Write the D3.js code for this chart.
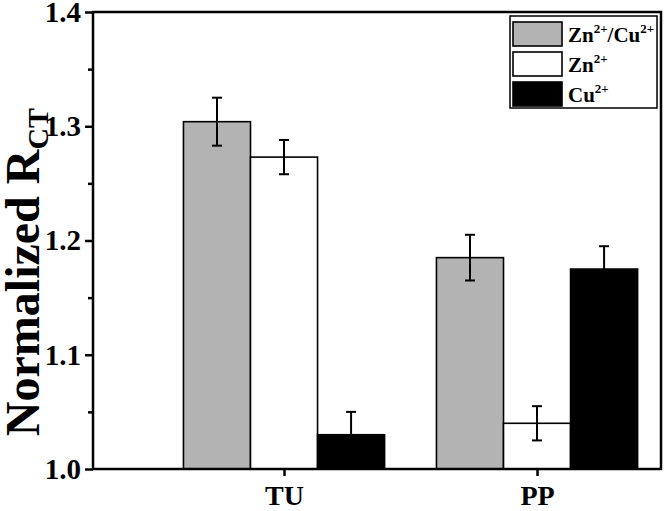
<!DOCTYPE html>
<html>
<head>
<meta charset="utf-8">
<script src="https://cdn.jsdelivr.net/npm/d3@7"></script>
<style>
  html, body { margin: 0; padding: 0; background: #fff; }
  svg { display: block; }
  text { font-family: "Liberation Serif", "Times New Roman", serif; font-weight: bold; fill: #000; }
</style>
</head>
<body>
<svg id="chart" width="666" height="511"></svg>
<script>
// ---- data ----
const categories = ["TU", "PP"];
const seriesNames = ["Zn2+/Cu2+", "Zn2+", "Cu2+"];
const mixedValues = [1.304, 1.185];
const mixedErrors = [0.021, 0.020];
const znValues = [1.273, 1.040];
const znErrors = [0.015, 0.015];
const cuValues = [1.030, 1.175];
const cuErrors = [0.020, 0.020];
const yTickValues = [1.0, 1.1, 1.2, 1.3, 1.4];
const yMinorTickValues = [1.05, 1.15, 1.25, 1.35];
const seriesColors = ["#b3b3b3", "#ffffff", "#000000"];

const series = [
  { name: seriesNames[0], values: mixedValues, errors: mixedErrors, color: seriesColors[0] },
  { name: seriesNames[1], values: znValues, errors: znErrors, color: seriesColors[1] },
  { name: seriesNames[2], values: cuValues, errors: cuErrors, color: seriesColors[2] }
];

(function () {
// ---- layout ----
const svg = d3.select("#chart");
const pLeft = 93, pRight = 661, pTop = 12, pBottom = 469;

const x = d3.scaleLinear().domain([0.245, 2.49]).range([pLeft, pRight]);
const y = d3.scaleLinear().domain([1.0, 1.4]).range([pBottom, pTop]);
const barW = x(1.265) - x(1);

// bars
const g = svg.append("g");
series.forEach((s, si) => {
  categories.forEach((c, ci) => {
    const cx = x(ci + 1) + (si - 1) * barW;
    const v = s.values[ci];
    g.append("rect")
      .attr("x", cx - barW / 2)
      .attr("y", y(v))
      .attr("width", barW)
      .attr("height", y(1.0) - y(v))
      .attr("fill", s.color)
      .attr("stroke", "#000")
      .attr("stroke-width", 1.6);
  });
});

// error bars
series.forEach((s, si) => {
  categories.forEach((c, ci) => {
    const cx = x(ci + 1) + (si - 1) * barW;
    const v = s.values[ci], e = s.errors[ci];
    const eg = g.append("g").attr("stroke", "#000").attr("stroke-width", 2);
    eg.append("line").attr("x1", cx).attr("x2", cx).attr("y1", y(v - e)).attr("y2", y(v + e));
    eg.append("line").attr("x1", cx - 5).attr("x2", cx + 5).attr("y1", y(v + e)).attr("y2", y(v + e));
    eg.append("line").attr("x1", cx - 5).attr("x2", cx + 5).attr("y1", y(v - e)).attr("y2", y(v - e));
  });
});

// frame
svg.append("rect")
  .attr("x", pLeft).attr("y", pTop)
  .attr("width", pRight - pLeft).attr("height", pBottom - pTop)
  .attr("fill", "none").attr("stroke", "#000").attr("stroke-width", 2.5);

// y axis
const yAxis = svg.append("g").attr("transform", `translate(${pLeft},0)`)
  .call(d3.axisLeft(y).tickValues(yTickValues).tickSize(8).tickPadding(4).tickFormat(d3.format(".1f")));
yAxis.select(".domain").remove();
yAxis.selectAll(".tick line").attr("stroke-width", 2.5);
yAxis.selectAll(".tick text").style("font-size", "29px").style("font-family", "Liberation Serif").style("font-weight", "bold");

const yMinor = svg.append("g").attr("transform", `translate(${pLeft},0)`)
  .call(d3.axisLeft(y).tickValues(yMinorTickValues).tickSize(5).tickFormat(""));
yMinor.select(".domain").remove();
yMinor.selectAll(".tick line").attr("stroke-width", 2.5);

// x axis
const xAxis = svg.append("g").attr("transform", `translate(0,${pBottom})`)
  .call(d3.axisBottom(x).tickValues([1, 2]).tickSize(7).tickPadding(9).tickFormat((d) => categories[d - 1]));
xAxis.select(".domain").remove();
xAxis.selectAll(".tick line").attr("stroke-width", 2.5);
xAxis.selectAll(".tick text").style("font-size", "28px").style("font-family", "Liberation Serif").style("font-weight", "bold");

// y label
const yl = svg.append("text")
  .attr("transform", `translate(39,272) rotate(-90)`)
  .attr("text-anchor", "middle")
  .style("font-size", "48px");
yl.append("tspan").text("Normalized R");
yl.append("tspan").text("CT").style("font-size", "30px").attr("dy", 9);

// legend
const lg = svg.append("g");
lg.append("rect").attr("x", 510).attr("y", 16).attr("width", 147).attr("height", 92)
  .attr("fill", "#fff").attr("stroke", "#000").attr("stroke-width", 1.5);
const legendLabels = [
  [["Zn", 0], ["2+", 1], ["/Cu", 0], ["2+", 1]],
  [["Zn", 0], ["2+", 1]],
  [["Cu", 0], ["2+", 1]]
];
series.forEach((s, i) => {
  const ry = 22 + i * 30;
  lg.append("rect").attr("x", 513).attr("y", ry).attr("width", 49).attr("height", 24)
    .attr("fill", s.color).attr("stroke", "#000").attr("stroke-width", 1.6);
  const t = lg.append("text").attr("x", 568).attr("y", ry + 20).style("font-size", "21px");
  legendLabels[i].forEach(([txt, sup], k) => {
    const sp = t.append("tspan").text(txt);
    if (sup) {
      sp.style("font-size", "13px").attr("dy", -9);
    } else if (k > 0) {
      sp.attr("dy", 9);
    }
  });
});
})();
</script>
</body>
</html>
